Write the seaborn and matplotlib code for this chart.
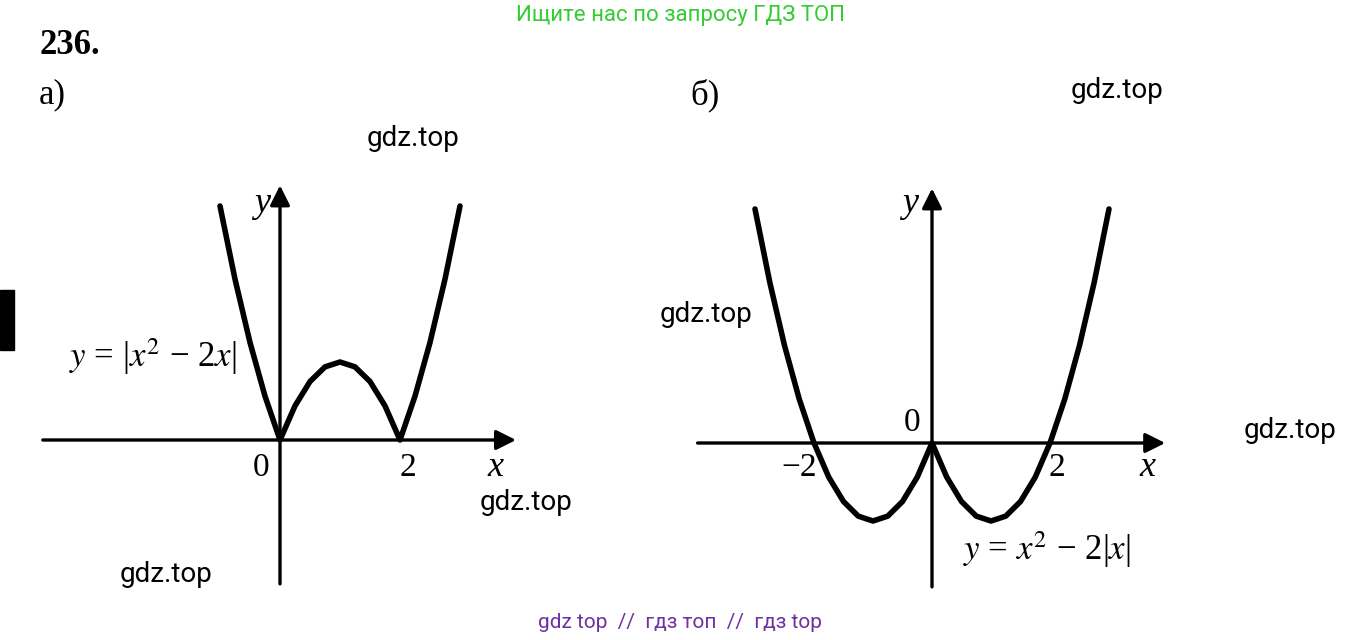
import matplotlib
matplotlib.use("Agg")
import matplotlib.pyplot as plt
import seaborn as sns

# === Data ===
x_a = [-1.0, -0.75, -0.5, -0.25, 0, 0.25, 0.5, 0.75, 1, 1.25, 1.5, 1.75, 2, 2.25, 2.5, 2.75, 3.0]
y_a = [3, 2.0625, 1.25, 0.5625, 0, 0.4375, 0.75, 0.9375, 1, 0.9375, 0.75, 0.4375, 0, 0.5625, 1.25, 2.0625, 3]

x_b = [-3.0, -2.75, -2.5, -2.25, -2, -1.75, -1.5, -1.25, -1, -0.75, -0.5, -0.25, 0,
       0.25, 0.5, 0.75, 1, 1.25, 1.5, 1.75, 2, 2.25, 2.5, 2.75, 3.0]
y_b = [3, 2.0625, 1.25, 0.5625, 0, -0.4375, -0.75, -0.9375, -1, -0.9375, -0.75, -0.4375, 0,
       -0.4375, -0.75, -0.9375, -1, -0.9375, -0.75, -0.4375, 0, 0.5625, 1.25, 2.0625, 3]

W, H = 1362, 640
sns.set_theme(style="white")
plt.rcParams["mathtext.fontset"] = "stix"
plt.rcParams["text.color"] = "black"
fig = plt.figure(figsize=(W / 100, H / 100), dpi=100)
fig.patch.set_facecolor("white")


def px(x, y):
    return x / W, 1 - y / H


def make_axes(left, top, right, bottom, xlim, ylim):
    ax = fig.add_axes([left / W, 1 - bottom / H, (right - left) / W, (bottom - top) / H])
    ax.set_xlim(*xlim)
    ax.set_ylim(*ylim)
    ax.axis("off")
    return ax


def draw_axes(ax, x0, x1, y0, y1):
    arrow = dict(arrowstyle="-|>", color="black", lw=2.4, mutation_scale=30)
    ax.annotate("", xy=(x1, 0), xytext=(x0, 0), arrowprops=arrow)
    ax.annotate("", xy=(0, y1), xytext=(0, y0), arrowprops=arrow)


# --- a) ---
ax1 = make_axes(40, 170, 520, 590, (-4, 4), (-150 / 78, 270 / 78))
draw_axes(ax1, -4, 3.98, -1.88, 3.3)
sns.lineplot(x=x_a, y=y_a, ax=ax1, color="black", linewidth=4, sort=False)

# --- б) ---
ax2 = make_axes(695, 170, 1170, 590, (-237 / 59, 238 / 59), (-147 / 78, 273 / 78))
draw_axes(ax2, -4.02, 4.0, -1.88, 3.3)
sns.lineplot(x=x_b, y=y_b, ax=ax2, color="black", linewidth=4, sort=False)

serif = ["Liberation Serif", "DejaVu Serif"]
sans = ["Roboto", "DejaVu Sans"]


def t(x, y, s, size=20, family=serif, **kw):
    fig.text(*px(x, y), s, fontsize=size, family=family, ha="center", va="center", **kw)


t(680, 15, "Ищите нас по запросу ГДЗ ТОП", 16, sans, color="#33cc33")
t(70, 45, "236.", 25, weight="bold")
t(52, 95, "а)", 25)
t(705, 95, "б)", 25)

t(262, 203, "y", 26, style="italic")
t(495, 467, "x", 26, style="italic")
t(261, 468, "0", 24)
t(408, 468, "2", 24)
t(153, 357, r"$y$ = |$x^2$ − 2$x$|", 25)

t(910, 203, "y", 26, style="italic")
t(1147, 467, "x", 26, style="italic")
t(912, 423, "0", 24)
t(799, 468, "−2", 24)
t(1057, 468, "2", 24)
t(1047, 550, r"$y$ = $x^2$ − 2|$x$|", 25)

for gx, gy in [(413, 138), (1117, 90), (706, 315), (1290, 430), (526, 502), (166, 575)]:
    t(gx, gy, "gdz.top", 20, sans, color="black")

t(680, 622, "gdz top  //  гдз топ  //  гдз top", 15, sans, color="#7030a0")

fig.patches.append(plt.Rectangle(px(0, 350), 14 / W, 60 / H, transform=fig.transFigure,
                                 color="black", figure=fig))

fig.savefig("out.png", dpi=100)
